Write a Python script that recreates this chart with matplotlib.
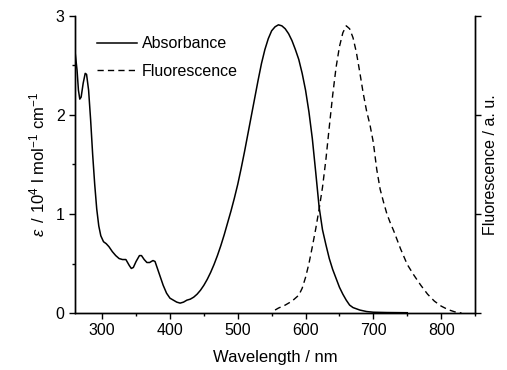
import matplotlib
matplotlib.use('Agg')
import matplotlib.pyplot as plt
from matplotlib.ticker import MultipleLocator

plt.rcParams['font.family'] = ['Liberation Sans', 'DejaVu Sans']
plt.rcParams['mathtext.fontset'] = 'custom'
plt.rcParams['mathtext.rm'] = 'Liberation Sans'
plt.rcParams['mathtext.it'] = 'Liberation Sans:italic'

# absorbance spectrum (epsilon / 10^4 l mol-1 cm-1)
abs_wl = [260, 263, 265, 267, 269, 272, 275, 277, 280, 283, 286, 289, 292, 295, 298,
          302, 306, 310, 315, 320, 325, 330, 335, 340, 343, 346, 350, 355, 358, 362,
          366, 370, 375, 378, 382, 386, 390, 395, 400, 405, 410, 415, 420, 425, 430,
          435, 440, 445, 450, 455, 460, 465, 470, 475, 480, 485, 490, 495, 500, 505,
          510, 515, 520, 525, 530, 535, 540, 545, 550, 555, 560, 565, 570, 575, 580,
          585, 590, 595, 600, 605, 610, 615, 620, 625, 630, 635, 640, 645, 650, 655,
          660, 665, 670, 680, 690, 700, 720, 750]
abs_eps = [2.64, 2.45, 2.25, 2.16, 2.18, 2.32, 2.42, 2.41, 2.25, 1.95, 1.6, 1.3, 1.05, 0.88, 0.78,
           0.72, 0.70, 0.67, 0.62, 0.58, 0.55, 0.54, 0.54, 0.48, 0.45, 0.46, 0.52, 0.58, 0.58, 0.54,
           0.51, 0.51, 0.53, 0.52, 0.44, 0.36, 0.28, 0.20, 0.15, 0.13, 0.11, 0.10, 0.11, 0.13, 0.14,
           0.16, 0.19, 0.23, 0.28, 0.34, 0.41, 0.49, 0.58, 0.68, 0.79, 0.91, 1.03, 1.16, 1.30, 1.46,
           1.63, 1.81, 1.99, 2.17, 2.35, 2.52, 2.66, 2.77, 2.85, 2.89, 2.91, 2.90, 2.87, 2.82, 2.75,
           2.66, 2.56, 2.42, 2.25, 2.03, 1.76, 1.42, 1.07, 0.84, 0.69, 0.55, 0.44, 0.35, 0.26, 0.19,
           0.13, 0.08, 0.055, 0.03, 0.015, 0.008, 0.005, 0.003]

# fluorescence spectrum (a. u.)
fl_wl = [555, 560, 570, 580, 590, 595, 600, 605, 610, 615, 620, 625, 630, 635, 640,
         645, 650, 655, 660, 665, 670, 675, 680, 685, 690, 695, 700, 705, 710, 715,
         720, 725, 730, 735, 740, 745, 750, 760, 770, 780, 790, 800, 810, 820, 830]
fl_int = [0.03, 0.05, 0.08, 0.12, 0.18, 0.25, 0.36, 0.50, 0.67, 0.85, 1.05, 1.27, 1.55, 1.88, 2.20,
          2.48, 2.69, 2.83, 2.90, 2.87, 2.78, 2.63, 2.43, 2.22, 2.04, 1.90, 1.72, 1.45, 1.25, 1.12,
          1.00, 0.91, 0.83, 0.74, 0.65, 0.57, 0.49, 0.38, 0.28, 0.19, 0.12, 0.07, 0.035, 0.012, 0.0]

fig = plt.figure(figsize=(5.07, 3.70), dpi=100)
ax = fig.add_axes([0.148, 0.154, 0.789, 0.803])
ax2 = ax.twinx()

la, = ax.plot(abs_wl, abs_eps, color='black', lw=1.1, label='Absorbance')
lf, = ax2.plot(fl_wl, fl_int, color='black', lw=1.0, dashes=(4.5, 3), label='Fluorescence')

ax.set_xlim(260, 850)
ax.set_ylim(0, 3)
ax2.set_ylim(0, 3)

ax.xaxis.set_major_locator(MultipleLocator(100))
ax.xaxis.set_minor_locator(MultipleLocator(50))
ax.yaxis.set_major_locator(MultipleLocator(1))
ax.yaxis.set_minor_locator(MultipleLocator(0.5))
ax2.yaxis.set_major_locator(MultipleLocator(1))
ax2.set_yticklabels([])

for a in (ax, ax2):
    a.spines['top'].set_visible(False)
    for s in a.spines.values():
        s.set_linewidth(1.0)
ax.tick_params(which='major', direction='out', length=4, width=1, labelsize=11.5)
ax.tick_params(which='minor', direction='out', length=2.5, width=1)
ax2.tick_params(which='major', direction='out', length=4, width=1, pad=0)

ax.set_xlabel('Wavelength / nm', fontsize=12, labelpad=8)
ax.set_ylabel(r'$\mathit{\varepsilon}\;\;$/ 10$^4$ l mol$^{-1}$ cm$^{-1}$', fontsize=12, labelpad=6)
ax2.set_ylabel('Fluorescence / a. u.', fontsize=11.5, labelpad=2)

ax.legend(handles=[la, lf], loc='upper left', bbox_to_anchor=(0.02, 0.98), frameon=False,
          fontsize=11.5, handlelength=2.5, handletextpad=0.3, labelspacing=0.8)

fig.savefig('out.png', dpi=100)
